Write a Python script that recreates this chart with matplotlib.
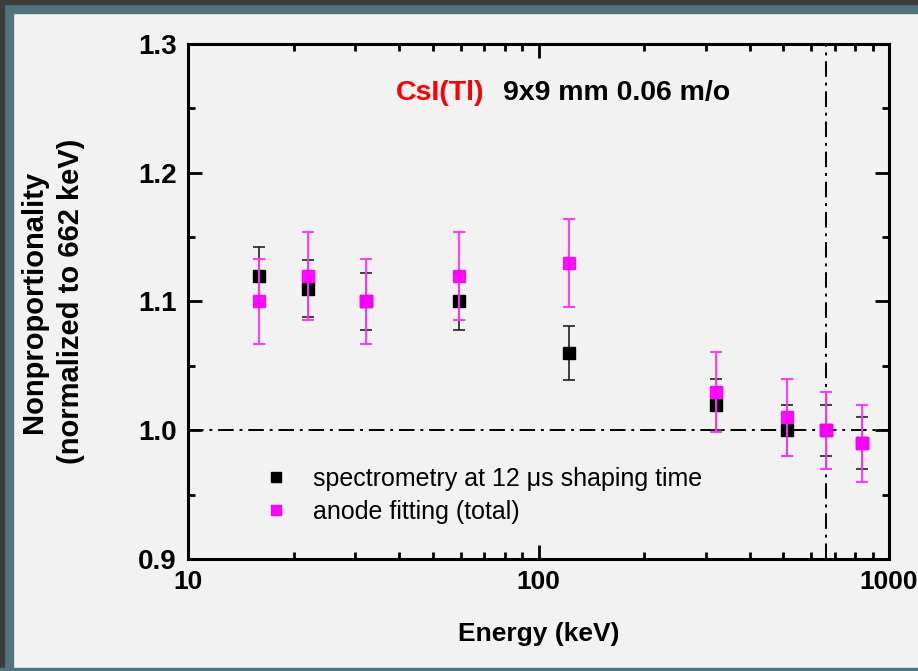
import matplotlib
matplotlib.use("Agg")
import matplotlib.pyplot as plt
from matplotlib.lines import Line2D
from matplotlib.patches import Rectangle
from matplotlib import font_manager

# gamma energies (keV)
energy = [15.9, 22.0, 32.2, 59.5, 122.0, 320.0, 511.0, 662.0, 835.0]

# spectrometry at 12 us shaping time
npr_spec = [1.12, 1.11, 1.10, 1.10, 1.06, 1.02, 1.00, 1.00, 0.99]
err_spec = [0.022, 0.022, 0.022, 0.022, 0.021, 0.02, 0.02, 0.02, 0.02]

# anode fitting (total)
npr_anode = [1.10, 1.12, 1.10, 1.12, 1.13, 1.03, 1.01, 1.00, 0.99]
err_anode = [0.033, 0.034, 0.033, 0.034, 0.034, 0.031, 0.03, 0.03, 0.03]

ref_energy = 662.0

names = {f.name for f in font_manager.fontManager.ttflist}
narrow = "Liberation Sans Narrow" if "Liberation Sans Narrow" in names else "Liberation Sans"
plt.rcParams["font.family"] = ["Liberation Sans", "DejaVu Sans"]

fig = plt.figure(figsize=(9.18, 6.71), dpi=100, facecolor="#f2f2f2")

# window frame around the plot
W, H = 918, 671
def band(x0, y0, w, h, c):
    fig.patches.append(Rectangle((x0 / W, 1 - (y0 + h) / H), w / W, h / H,
                                 transform=fig.transFigure, color=c, zorder=0))
band(0, 0, W, 13, "#50747f")
band(0, 0, 13, H, "#50747f")
band(0, 0, W, 4, "#3c3c3c")
band(0, 0, 4, H, "#3c3c3c")
band(0, 668, W, 3, "#50747f")

ax = fig.add_axes([188 / W, 1 - 559 / H, 701 / W, 515 / H])
ax.set_facecolor("#f2f2f2")

ax.errorbar(energy, npr_spec, yerr=err_spec, fmt="s", color="black",
            ms=8, ecolor="#222222", elinewidth=1.2, capsize=4, capthick=1.2, zorder=3)
ax.errorbar(energy, npr_anode, yerr=err_anode, fmt="s", color="#ff00ff",
            ms=8, ecolor="#ff33ff", elinewidth=1.5, capsize=4, capthick=1.5,
            alpha=0.95, zorder=4)

ax.axhline(1.0, color="black", lw=1.4, ls=(0, (8, 3, 1.5, 3)), zorder=2)
ax.axvline(ref_energy, color="black", lw=1.4, ls=(0, (8, 3, 1.5, 3)), zorder=2)

ax.set_xscale("log")
ax.set_xlim(10, 1000)
ax.set_ylim(0.9, 1.3)
ax.set_yticks([0.9, 1.0, 1.1, 1.2, 1.3])
ax.set_yticks([0.95, 1.05, 1.15, 1.25], minor=True)
ax.set_xticks([10, 100, 1000])
ax.set_xticklabels(["10", "100", "1000"])

for s in ax.spines.values():
    s.set_linewidth(2.2)
ax.tick_params(which="both", direction="in", top=True, right=True, width=2)
ax.tick_params(which="major", length=10, pad=8)
ax.tick_params(which="minor", length=5)
for lab in ax.get_yticklabels():
    lab.set_fontsize(20)
    lab.set_fontweight("bold")
for lab in ax.get_xticklabels():
    lab.set_fontsize(19)
    lab.set_fontweight("bold")
    lab.set_family(narrow)

ax.set_xlabel("Energy (keV)", fontsize=19, fontweight="bold", family=narrow, labelpad=20)
ax.set_ylabel("Nonproportionality\n(normalized to 662 keV)", fontsize=21,
              fontweight="bold", labelpad=38, linespacing=1.45)

ax.text(0.297, 0.905, "CsI(Tl)", transform=ax.transAxes, color="red",
        fontsize=20.5, fontweight="bold", va="center")
ax.text(0.449, 0.905, "9x9 mm 0.06 m/o", transform=ax.transAxes, color="black",
        fontsize=20.5, fontweight="bold", va="center")

handles = [Line2D([], [], ls="none", marker="s", color="black", ms=7),
           Line2D([], [], ls="none", marker="s", color="#ff00ff", ms=7)]
ax.legend(handles, ["spectrometry at 12 \u03bcs shaping time", "anode fitting (total)"],
          loc="upper left", bbox_to_anchor=(0.0756, 0.223), frameon=False,
          fontsize=18, handlelength=1.0, handletextpad=0.98, labelspacing=0.38)

fig.savefig("out.png", dpi=100, facecolor=fig.get_facecolor())
